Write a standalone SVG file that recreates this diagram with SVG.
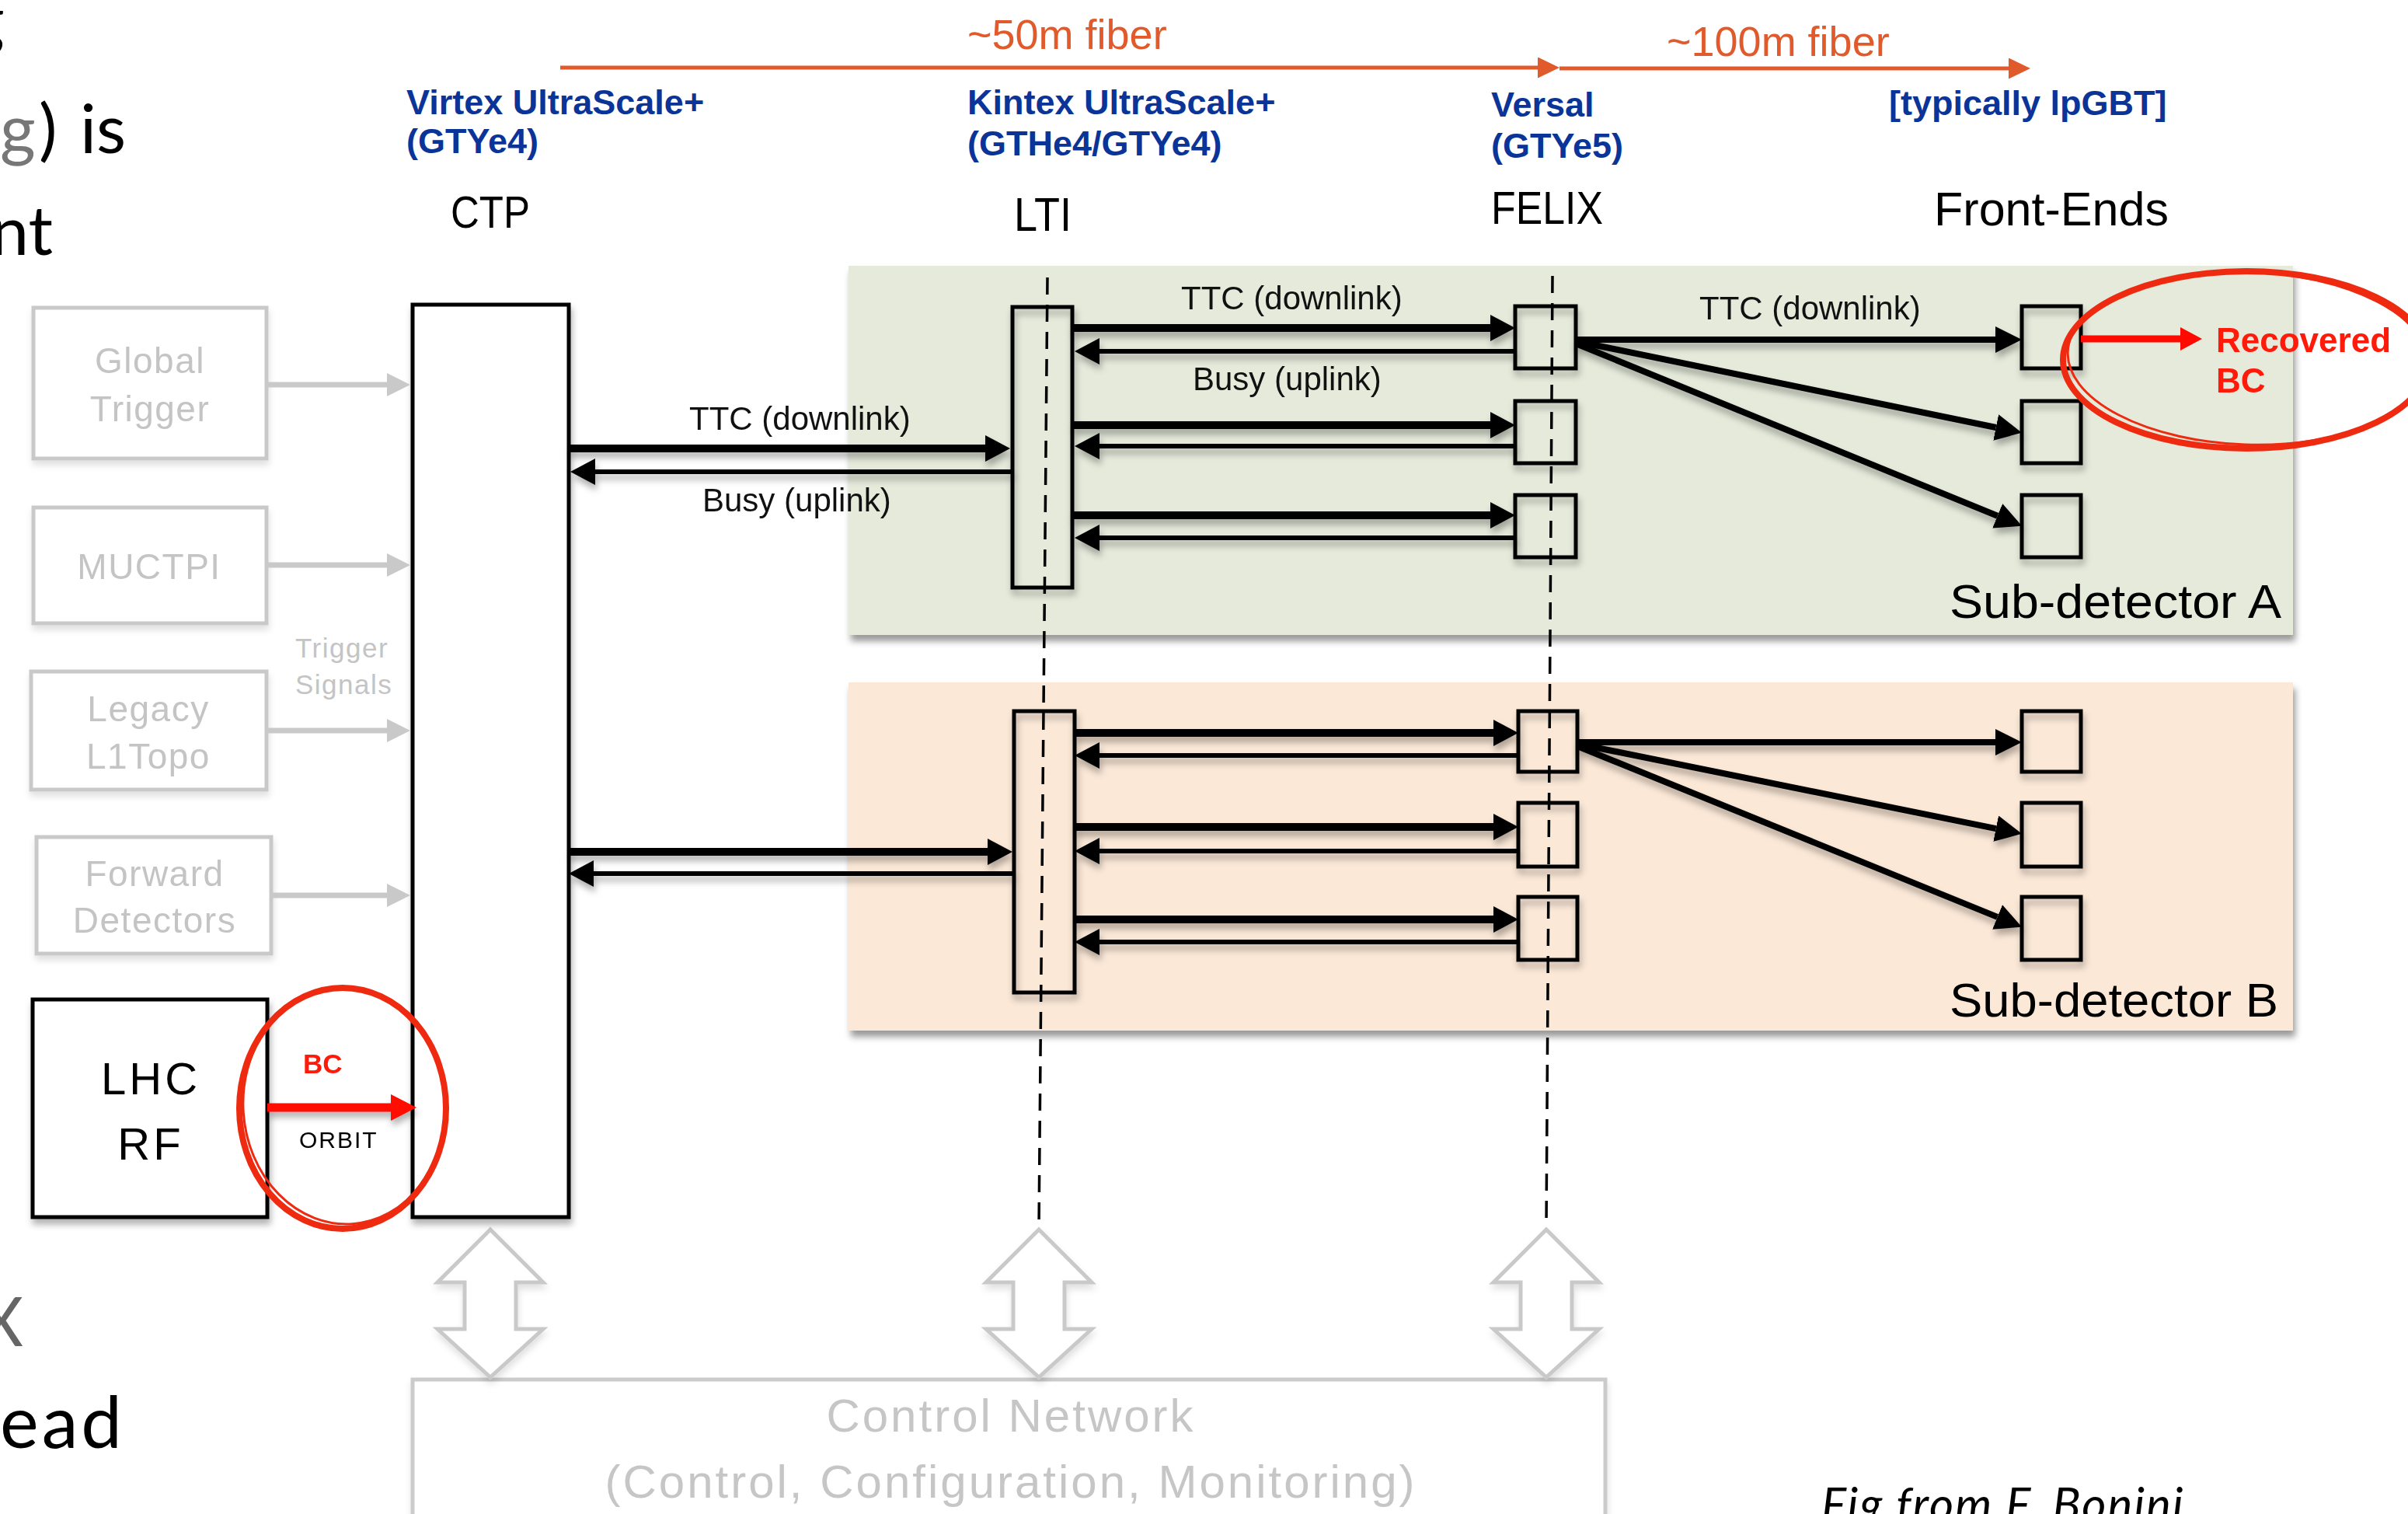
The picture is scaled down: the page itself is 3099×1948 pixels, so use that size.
<svg xmlns="http://www.w3.org/2000/svg" width="3099" height="1948" viewBox="0 0 3099 1948">
<style>
.slide{font-family:Lato,"Open Sans","Liberation Sans",sans-serif;font-weight:400;}
.hdr{font-family:"Liberation Sans",Arial,sans-serif;font-weight:bold;font-size:45px;fill:#0a3497;}
.fib{font-family:"Liberation Sans",Arial,sans-serif;font-size:54px;fill:#e15a2c;}
.nm{font-family:"Liberation Sans",Arial,sans-serif;fill:#000;}
.lbl{font-family:"Liberation Sans",Arial,sans-serif;font-size:42px;fill:#111;}
.gbox{fill:#fff;stroke:#c9c9c9;stroke-width:5;}
.gtxt{font-family:"Liberation Sans",Arial,sans-serif;font-size:46px;fill:#c4c4c4;text-anchor:middle;letter-spacing:1.5px;}
.blk{fill:none;stroke:#000;stroke-width:5;}
.dl{stroke:#000;stroke-width:10;fill:none;}
.ul{stroke:#000;stroke-width:6;fill:none;}
.fan{stroke:#000;stroke-width:8;fill:none;}
.dash{stroke:#000;stroke-width:3.5;stroke-dasharray:22 13;fill:none;}
.gar{stroke:#c9c9c9;stroke-width:7;fill:none;}
.red{font-family:"Liberation Sans",Arial,sans-serif;font-weight:bold;fill:#ff1a0a;}
.circ{fill:none;stroke:#ee2a10;}
</style>
<defs>
<filter id="sh" filterUnits="userSpaceOnUse" x="0" y="0" width="3099" height="1948"><feDropShadow dx="2" dy="7" stdDeviation="4" flood-color="#000" flood-opacity="0.3"/></filter>
<filter id="shp" filterUnits="userSpaceOnUse" x="0" y="0" width="3099" height="1948"><feDropShadow dx="3" dy="8" stdDeviation="4" flood-color="#000" flood-opacity="0.4"/></filter>
<filter id="shl" filterUnits="userSpaceOnUse" x="0" y="0" width="3099" height="1948"><feDropShadow dx="1" dy="6" stdDeviation="4" flood-color="#000" flood-opacity="0.12"/></filter>
<marker id="ab" viewBox="0 0 32 34" refX="0" refY="17" markerWidth="32" markerHeight="34" markerUnits="userSpaceOnUse" orient="auto"><path d="M0,0L32,17L0,34Z" fill="#000"/></marker>
<marker id="af" viewBox="0 0 34 34" refX="0" refY="17" markerWidth="34" markerHeight="34" markerUnits="userSpaceOnUse" orient="auto"><path d="M0,0L34,17L0,34Z" fill="#000"/></marker>
<marker id="ag" viewBox="0 0 30 30" refX="0" refY="15" markerWidth="30" markerHeight="30" markerUnits="userSpaceOnUse" orient="auto"><path d="M0,0L30,15L0,30Z" fill="#c9c9c9"/></marker>
<marker id="ar" viewBox="0 0 33 34" refX="0" refY="17" markerWidth="33" markerHeight="34" markerUnits="userSpaceOnUse" orient="auto"><path d="M0,0L33,17L0,34Z" fill="#ff0a00"/></marker>
<marker id="ar2" viewBox="0 0 28 30" refX="0" refY="15" markerWidth="28" markerHeight="30" markerUnits="userSpaceOnUse" orient="auto"><path d="M0,0L28,15L0,30Z" fill="#ff0a00"/></marker>
<marker id="ao" viewBox="0 0 28 27" refX="0" refY="13.5" markerWidth="28" markerHeight="27" markerUnits="userSpaceOnUse" orient="auto"><path d="M0,0L28,13.5L0,27Z" fill="#e15a2c"/></marker>
<path id="dbl" d="M0,0L68,68L33,68L33,128L68,128L0,190L-68,128L-33,128L-33,68L-68,68Z" fill="#fff" stroke="#c9c9c9" stroke-width="5" stroke-linejoin="miter"/>
</defs>

<rect width="3099" height="1948" fill="#fff"/>

<!-- slide text fragments -->
<g id="slide-text" class="slide">
<text x="-40" y="56" font-size="88" fill="#000">g</text>
<text y="197" font-size="88"><tspan x="0" fill="#777">g</tspan><tspan x="50" fill="#000">)</tspan><tspan x="103" fill="#000">is</tspan></text>
<text x="-12" y="328" font-size="88" fill="#000">nt</text>
<text x="-27" y="1732" font-size="88" fill="#666">X</text>
<text x="0" y="1863" font-size="94" fill="#000" letter-spacing="4">ead</text>
<text x="2344" y="1957" font-size="60" font-style="italic" fill="#000" letter-spacing="2">Fig from F. Bonini</text>
</g>

<!-- fiber arrows -->
<g id="fiber">
<line x1="721" y1="87" x2="1979" y2="87" stroke="#e15a2c" stroke-width="5" marker-end="url(#ao)"/>
<line x1="2007" y1="88" x2="2585" y2="88" stroke="#e15a2c" stroke-width="5" marker-end="url(#ao)"/>
<text class="fib" x="1245" y="63">~50m fiber</text>
<text class="fib" x="2145" y="72">~100m fiber</text>
</g>

<!-- headers -->
<g id="headers">
<text class="hdr" x="523" y="147">Virtex UltraScale+</text>
<text class="hdr" x="523" y="197">(GTYe4)</text>
<text class="hdr" x="1245" y="147">Kintex UltraScale+</text>
<text class="hdr" x="1245" y="200">(GTHe4/GTYe4)</text>
<text class="hdr" x="1919" y="150">Versal</text>
<text class="hdr" x="1919" y="203">(GTYe5)</text>
<text class="hdr" x="2431" y="148" font-size="41">[typically lpGBT]</text>
<text class="nm" x="580" y="293" font-size="57" textLength="102" lengthAdjust="spacingAndGlyphs">CTP</text>
<text class="nm" x="1305" y="297" font-size="62" textLength="74" lengthAdjust="spacingAndGlyphs">LTI</text>
<text class="nm" x="1919" y="288" font-size="60" textLength="144" lengthAdjust="spacingAndGlyphs">FELIX</text>
<text class="nm" x="2489" y="290" font-size="62" textLength="302" lengthAdjust="spacingAndGlyphs">Front-Ends</text>
</g>

<!-- panels -->
<g id="panel-a" filter="url(#shp)"><rect x="1092" y="342" width="1859" height="475" fill="#e5eadb"/></g>
<g id="panel-b" filter="url(#shp)"><rect x="1092" y="878" width="1859" height="448" fill="#fbe8d7"/></g>

<!-- control network -->
<g id="control-network" filter="url(#shl)">
<rect x="531" y="1775" width="1535" height="220" fill="#fff" stroke="#cbcbcb" stroke-width="5"/>
<text class="nm" x="1301" y="1842" font-size="60" style="fill:#c6c6c6" text-anchor="middle" letter-spacing="3">Control Network</text>
<text class="nm" x="1301" y="1927" font-size="60" style="fill:#c6c6c6" text-anchor="middle" letter-spacing="3">(Control, Configuration, Monitoring)</text>
</g>
<g id="ctrl-links" filter="url(#shl)">
<use href="#dbl" x="631" y="1582"/>
<use href="#dbl" x="1337" y="1582"/>
<use href="#dbl" x="1990" y="1582"/>
</g>

<!-- trigger input boxes -->
<g id="global-trigger" filter="url(#shl)"><rect class="gbox" x="43" y="396" width="300" height="194"/><text class="gtxt" x="193" y="480">Global</text><text class="gtxt" x="193" y="542">Trigger</text></g>
<g id="muctpi" filter="url(#shl)"><rect class="gbox" x="43" y="653" width="300" height="149"/><text class="gtxt" x="192" y="745">MUCTPI</text></g>
<g id="legacy-l1topo" filter="url(#shl)"><rect class="gbox" x="40" y="864" width="303" height="152"/><text class="gtxt" x="191" y="928">Legacy</text><text class="gtxt" x="191" y="989">L1Topo</text></g>
<g id="forward-detectors" filter="url(#shl)"><rect class="gbox" x="47" y="1077" width="302" height="150"/><text class="gtxt" x="199" y="1140">Forward</text><text class="gtxt" x="199" y="1200">Detectors</text></g>
<text x="380" y="846" font-family="Liberation Sans, Arial, sans-serif" font-size="35" fill="#c4c4c4" letter-spacing="1.5">Trigger</text>
<text x="380" y="893" font-family="Liberation Sans, Arial, sans-serif" font-size="35" fill="#c4c4c4" letter-spacing="1.5">Signals</text>

<!-- CTP and LHC RF -->
<g id="ctp" filter="url(#sh)"><rect x="531" y="392" width="201" height="1174" fill="#fff" stroke="#000" stroke-width="5"/></g>
<g id="lhc-rf" filter="url(#sh)"><rect x="42" y="1286" width="302" height="280" fill="#fff" stroke="#000" stroke-width="5"/>
<text class="nm" x="194" y="1408" font-size="58" text-anchor="middle" letter-spacing="4">LHC</text>
<text class="nm" x="194" y="1492" font-size="58" text-anchor="middle" letter-spacing="4">RF</text></g>

<!-- LTI / FELIX / Front-end boxes -->
<g id="boxes" filter="url(#sh)">
<g id="lti-a"><rect class="blk" x="1303" y="395" width="77" height="361"/></g>
<g id="lti-b"><rect class="blk" x="1305" y="915" width="78" height="362"/></g>
<g id="felix-a1"><rect class="blk" x="1950" y="394" width="78" height="80"/></g>
<g id="felix-a2"><rect class="blk" x="1950" y="516" width="78" height="80"/></g>
<g id="felix-a3"><rect class="blk" x="1950" y="637" width="78" height="80"/></g>
<g id="felix-b1"><rect class="blk" x="1954" y="915" width="76" height="78"/></g>
<g id="felix-b2"><rect class="blk" x="1954" y="1033" width="76" height="82"/></g>
<g id="felix-b3"><rect class="blk" x="1954" y="1154" width="76" height="81"/></g>
<g id="fe-a1"><rect class="blk" x="2602" y="394" width="76" height="80"/></g>
<g id="fe-a2"><rect class="blk" x="2602" y="516" width="76" height="80"/></g>
<g id="fe-a3"><rect class="blk" x="2602" y="637" width="76" height="80"/></g>
<g id="fe-b1"><rect class="blk" x="2602" y="915" width="76" height="78"/></g>
<g id="fe-b2"><rect class="blk" x="2602" y="1033" width="76" height="82"/></g>
<g id="fe-b3"><rect class="blk" x="2602" y="1154" width="76" height="81"/></g>
</g>

<!-- connectors -->
<g id="connectors">
<g id="dashed-lines">
<line class="dash" x1="1348" y1="357" x2="1337" y2="1580"/>
<line class="dash" x1="1998" y1="355" x2="1990" y2="1580"/>
</g>
<g id="trigger-links">
<line class="gar" x1="343" y1="495" x2="498" y2="495" marker-end="url(#ag)"/>
<line class="gar" x1="343" y1="727" x2="498" y2="727" marker-end="url(#ag)"/>
<line class="gar" x1="343" y1="940" x2="498" y2="940" marker-end="url(#ag)"/>
<line class="gar" x1="349" y1="1152" x2="498" y2="1152" marker-end="url(#ag)"/>
</g>
<g id="data-links" filter="url(#sh)">
<line class="dl" x1="732" y1="577" x2="1268" y2="577" marker-end="url(#ab)"/>
<line class="ul" x1="1303" y1="607" x2="766" y2="607" marker-end="url(#ab)"/>
<line class="dl" x1="732" y1="1096" x2="1271" y2="1096" marker-end="url(#ab)"/>
<line class="ul" x1="1305" y1="1124" x2="764" y2="1124" marker-end="url(#ab)"/>

<line class="dl" x1="1380" y1="422" x2="1918" y2="422" marker-end="url(#ab)"/>
<line class="ul" x1="1950" y1="452" x2="1415" y2="452" marker-end="url(#ab)"/>
<line class="dl" x1="1380" y1="547" x2="1918" y2="547" marker-end="url(#ab)"/>
<line class="ul" x1="1950" y1="574" x2="1415" y2="574" marker-end="url(#ab)"/>
<line class="dl" x1="1380" y1="663" x2="1918" y2="663" marker-end="url(#ab)"/>
<line class="ul" x1="1950" y1="692" x2="1415" y2="692" marker-end="url(#ab)"/>

<line class="dl" x1="1383" y1="943" x2="1922" y2="943" marker-end="url(#ab)"/>
<line class="ul" x1="1954" y1="972" x2="1415" y2="972" marker-end="url(#ab)"/>
<line class="dl" x1="1383" y1="1064" x2="1922" y2="1064" marker-end="url(#ab)"/>
<line class="ul" x1="1954" y1="1095" x2="1415" y2="1095" marker-end="url(#ab)"/>
<line class="dl" x1="1383" y1="1183" x2="1922" y2="1183" marker-end="url(#ab)"/>
<line class="ul" x1="1954" y1="1212" x2="1415" y2="1212" marker-end="url(#ab)"/>

<line class="fan" x1="2028" y1="437" x2="2568" y2="437" marker-end="url(#af)"/>
<line class="fan" x1="2028" y1="439" x2="2568.7" y2="550" marker-end="url(#af)"/>
<line class="fan" x1="2028" y1="442" x2="2570.7" y2="663.8" marker-end="url(#af)"/>
<line class="fan" x1="2030" y1="955" x2="2568" y2="955" marker-end="url(#af)"/>
<line class="fan" x1="2030" y1="957" x2="2568.7" y2="1066.1" marker-end="url(#af)"/>
<line class="fan" x1="2030" y1="960" x2="2570.6" y2="1179.9" marker-end="url(#af)"/>

<line x1="344" y1="1425" x2="503" y2="1425" stroke="#ff0a00" stroke-width="11" marker-end="url(#ar)"/>
</g>
<line id="recovered-link" x1="2678" y1="436" x2="2806" y2="436" stroke="#ff0a00" stroke-width="9" marker-end="url(#ar2)"/>
</g>

<!-- labels -->
<g id="link-labels">
<text class="lbl" x="887" y="553">TTC (downlink)</text>
<text class="lbl" x="904" y="658">Busy (uplink)</text>
<text class="lbl" x="1520" y="398">TTC (downlink)</text>
<text class="lbl" x="1535" y="502">Busy (uplink)</text>
<text class="lbl" x="2187" y="411">TTC (downlink)</text>
<text class="nm" x="2936" y="795" font-size="62" text-anchor="end" textLength="427" lengthAdjust="spacingAndGlyphs">Sub-detector A</text>
<text class="nm" x="2932" y="1308" font-size="62" text-anchor="end" textLength="423" lengthAdjust="spacingAndGlyphs">Sub-detector B</text>
<text class="red" x="390" y="1381" font-size="35">BC</text>
<text class="nm" x="385" y="1477" font-size="30" letter-spacing="2">ORBIT</text>
<text class="red" x="2852" y="453" font-size="44">Recovered</text>
<text class="red" x="2852" y="505" font-size="44">BC</text>
</g>

<!-- red hand-drawn circles -->
<g id="highlights">
<ellipse class="circ" cx="441" cy="1426" rx="133" ry="155" stroke-width="8"/>
<ellipse class="circ" cx="443" cy="1423" rx="130" ry="152" stroke-width="3" transform="rotate(-4 443 1423)"/>
<ellipse class="circ" cx="2891" cy="463" rx="236" ry="114" stroke-width="8"/>
<ellipse class="circ" cx="2893" cy="461" rx="232" ry="111" stroke-width="3" transform="rotate(2 2893 461)"/>
</g>
</svg>
